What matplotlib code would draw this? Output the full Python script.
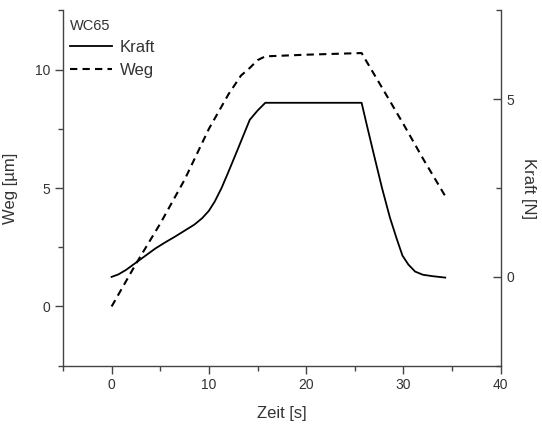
# Kraft und Weg über der Zeit für Probe WC65 (Weg links, Kraft rechts)

import matplotlib
matplotlib.use("Agg")
import matplotlib.pyplot as plt

plt.rcParams['font.family'] = ['Liberation Sans', 'DejaVu Sans']

# Messwerte
zeit_kraft = [0, 0.7, 1.5, 2.5, 3.5, 4.5, 5.5, 6.5, 7.5, 8.5, 9.3, 10, 10.6, 11.3,
              12, 12.8, 13.5, 14.2, 15.0, 15.8, 20, 25.7, 26.3, 27.0, 27.8, 28.6,
              29.3, 29.9, 30.5, 31.2, 32.0, 33, 34.3]
kraft = [0, 0.07, 0.2, 0.4, 0.6, 0.8, 0.97, 1.13, 1.3, 1.47, 1.65, 1.86, 2.12, 2.5,
         2.95, 3.48, 3.95, 4.42, 4.68, 4.9, 4.9, 4.9, 4.2, 3.4, 2.5, 1.68,
         1.08, 0.6, 0.35, 0.15, 0.06, 0.02, -0.02]

zeit_weg = [0, 2.5, 5, 7.5, 10, 12, 13.3, 14.2, 15, 15.8, 20, 25.7, 26.2, 28, 30, 32, 34.3]
weg = [0, 1.8, 3.5, 5.35, 7.5, 8.95, 9.75, 10.07, 10.4, 10.56, 10.63, 10.7, 10.35,
       9.1, 7.7, 6.25, 4.66]

textfarbe = '#333333'

fig = plt.figure(figsize=(5.42, 4.25), dpi=100)
ax = fig.add_axes([0.1162, 0.1395, 0.8076, 0.836])
ax2 = ax.twinx()

l_weg, = ax.plot(zeit_weg, weg, color='black', lw=1.5, dashes=(3.5, 2.5), label='Weg')
l_kraft, = ax2.plot(zeit_kraft, kraft, color='black', lw=1.3, label='Kraft')

ax.set_xlim(-5, 40)
ax.set_ylim(-2.5, 12.5)
ax2.set_ylim(-2.5, 7.5)

ax.set_xticks([0, 10, 20, 30, 40])
ax.set_xticks([-5, 5, 15, 25, 35], minor=True)
ax.set_yticks([0, 5, 10])
ax.set_yticks([-2.5, 2.5, 7.5, 12.5], minor=True)
ax2.set_yticks([0, 5])
ax2.set_yticks([-2.5, 2.5, 7.5], minor=True)

for a in (ax, ax2):
    a.spines['top'].set_visible(False)
    for s in a.spines.values():
        s.set_color('#444444')
        s.set_linewidth(1.0)

ax.spines['right'].set_visible(False)
ax2.spines['left'].set_visible(False)
ax2.spines['bottom'].set_visible(False)

ax.tick_params(axis='both', which='major', direction='out', length=6, width=1,
               color='#444444', labelsize=10, labelcolor=textfarbe, pad=3)
ax.tick_params(axis='both', which='minor', direction='out', length=3.5, width=1,
               color='#444444')
ax2.tick_params(axis='y', which='major', direction='in', length=6, width=1,
                color='#444444', labelsize=10, labelcolor=textfarbe, pad=4)
ax2.tick_params(axis='y', which='minor', direction='in', length=3.5, width=1,
                color='#444444')

ax.set_xlabel('Zeit [s]', fontsize=12, color=textfarbe, labelpad=10)
ax.set_ylabel('Weg [µm]', fontsize=12, color=textfarbe, labelpad=12)
ax2.set_ylabel('Kraft [N]', fontsize=12, color=textfarbe, rotation=270,
               va='bottom', labelpad=5)

leg = ax.legend(handles=[l_kraft, l_weg], title='WC65', loc='upper left',
                bbox_to_anchor=(-0.01, 1.01), frameon=False, fontsize=12,
                title_fontsize=10.5, alignment='left', handlelength=2.5,
                handletextpad=0.45, labelspacing=0.45, borderaxespad=0.3)
for t in leg.get_texts():
    t.set_color(textfarbe)
leg.get_title().set_color(textfarbe)

fig.savefig('out.png', dpi=100)
